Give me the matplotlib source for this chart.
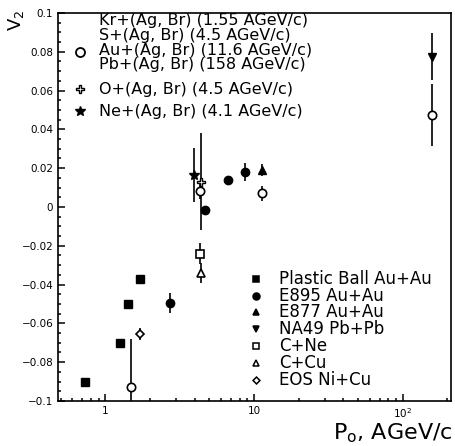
import matplotlib
matplotlib.use("Agg")
import matplotlib.pyplot as plt
from matplotlib.ticker import FixedLocator, MultipleLocator, NullFormatter

# data (beam momentum, v2, error)
plastic_x = [0.73, 1.25, 1.42, 1.70]
plastic_y = [-0.090, -0.070, -0.050, -0.037]

e895_x = [2.74, 4.71, 6.66, 8.67]
e895_y = [-0.0495, -0.0015, 0.014, 0.018]
e895_err = [0.005, 0.0, 0.0, 0.0045]

e877_x = [11.4]
e877_y = [0.019]
e877_err = [0.003]

na49_x = [158]
na49_y = [0.0775]
na49_err = [0.012]

cne_x = [4.36]
cne_y = [-0.024]
cne_err = [0.0055]

ccu_x = [4.4]
ccu_y = [-0.034]
ccu_err = [0.005]

eos_x = [1.72]
eos_y = [-0.0655]
eos_err = [0.003]

# emulsion data (Kr, S, Au, Pb + (Ag,Br))
emu_x = [1.49, 4.36, 11.4, 158]
emu_y = [-0.093, 0.008, 0.007, 0.0475]
emu_err = [0.025, 0.004, 0.004, 0.016]

oxy_x = [4.4]
oxy_y = [0.013]
oxy_err = [0.025]

neon_x = [3.93]
neon_y = [0.0166]
neon_err = [0.014]

emu_labels = ["Kr+(Ag, Br) (1.55 AGeV/c)",
              "S+(Ag, Br) (4.5 AGeV/c)",
              "Au+(Ag, Br) (11.6 AGeV/c)",
              "Pb+(Ag, Br) (158 AGeV/c)"]

fig = plt.figure(figsize=(4.55, 4.46), dpi=100)
ax = fig.add_axes([0.1275, 0.101, 0.864, 0.870])

eb = dict(color="black", elinewidth=1.2, capsize=0, linestyle="none")
ax.errorbar(emu_x, emu_y, yerr=emu_err, marker="o", ms=6, mfc="white", mec="black", mew=1.2, **eb)
ax.errorbar(oxy_x, oxy_y, yerr=oxy_err, marker="P", ms=6, mfc="white", mec="black", mew=1.0, **eb)
ax.errorbar(neon_x, neon_y, yerr=neon_err, marker="*", ms=7, mfc="black", mec="black", **eb)
ax.plot(plastic_x, plastic_y, "s", ms=6, color="black", linestyle="none")
ax.errorbar(e895_x, e895_y, yerr=e895_err, marker="o", ms=6, mfc="black", mec="black", **eb)
ax.errorbar(e877_x, e877_y, yerr=e877_err, marker="^", ms=6, mfc="black", mec="black", **eb)
ax.errorbar(na49_x, na49_y, yerr=na49_err, marker="v", ms=6, mfc="black", mec="black", **eb)
ax.errorbar(cne_x, cne_y, yerr=cne_err, marker="s", ms=6, mfc="white", mec="black", mew=1.2, **eb)
ax.errorbar(ccu_x, ccu_y, yerr=ccu_err, marker="^", ms=6, mfc="white", mec="black", mew=1.2, **eb)
ax.errorbar(eos_x, eos_y, yerr=eos_err, marker="D", ms=4.5, mfc="white", mec="black", mew=1.2, **eb)

ax.set_xscale("log")
ax.set_xlim(0.48, 212)
ax.set_ylim(-0.1, 0.1)

ax.xaxis.set_major_locator(FixedLocator([1, 10, 100]))
ax.set_xticklabels(["1", "10", r"$10^2$"])
ax.xaxis.set_minor_formatter(NullFormatter())
ax.yaxis.set_minor_locator(MultipleLocator(0.005))
ax.set_yticks([0.1, 0.08, 0.06, 0.04, 0.02, 0, -0.02, -0.04, -0.06, -0.08, -0.1])
ax.set_yticklabels(["0.1", "0.08", "0.06", "0.04", "0.02", "0",
                    "\u22120.02", "\u22120.04", "\u22120.06", "\u22120.08", "\u22120.1"])
ax.tick_params(which="both", direction="in", top=False, right=False, labelsize=7.5, width=1.1)
ax.tick_params(which="major", length=5)
ax.tick_params(which="minor", length=2.5)
for s in ax.spines.values():
    s.set_linewidth(1.2)

# upper-left legend
T = ax.transAxes
ax.text(0.105, 0.923, "\n".join(emu_labels), transform=T, fontsize=11.5,
        va="center", ha="left", linespacing=0.97)
ax.text(0.105, 0.802, "O+(Ag, Br) (4.5 AGeV/c)", transform=T, fontsize=11.5, va="center")
ax.text(0.105, 0.746, "Ne+(Ag, Br) (4.1 AGeV/c)", transform=T, fontsize=11.5, va="center")
ax.plot([0.055], [0.900], "o", ms=6.5, mfc="white", mec="black", mew=1.3, transform=T)
ax.plot([0.055], [0.803], "P", ms=6, mfc="white", mec="black", mew=1.0, transform=T)
ax.plot([0.055], [0.746], "*", ms=7, color="black", transform=T)

# lower-right legend
low = [("Plastic Ball Au+Au", "s", "black"),
       ("E895 Au+Au", "o", "black"),
       ("E877 Au+Au", "^", "black"),
       ("NA49 Pb+Pb", "v", "black"),
       ("C+Ne", "s", "white"),
       ("C+Cu", "^", "white"),
       ("EOS Ni+Cu", "D", "white")]
for i, (txt, m, fc) in enumerate(low):
    yy = 0.315 - i * 0.0435
    ax.plot([0.503], [yy], m, ms=5 if m != "D" else 3.5, mfc=fc, mec="black", mew=1.1, transform=T)
    ax.text(0.562, yy, txt, transform=T, fontsize=12, va="center", ha="left")

fig.text(0.035, 0.955, r"V$_2$", rotation=90, fontsize=13, ha="center", va="center")
fig.text(0.995, 0.028, r"P$_\mathrm{o}$, AGeV/c", fontsize=16, ha="right", va="center")

fig.savefig("out.png", dpi=100)
